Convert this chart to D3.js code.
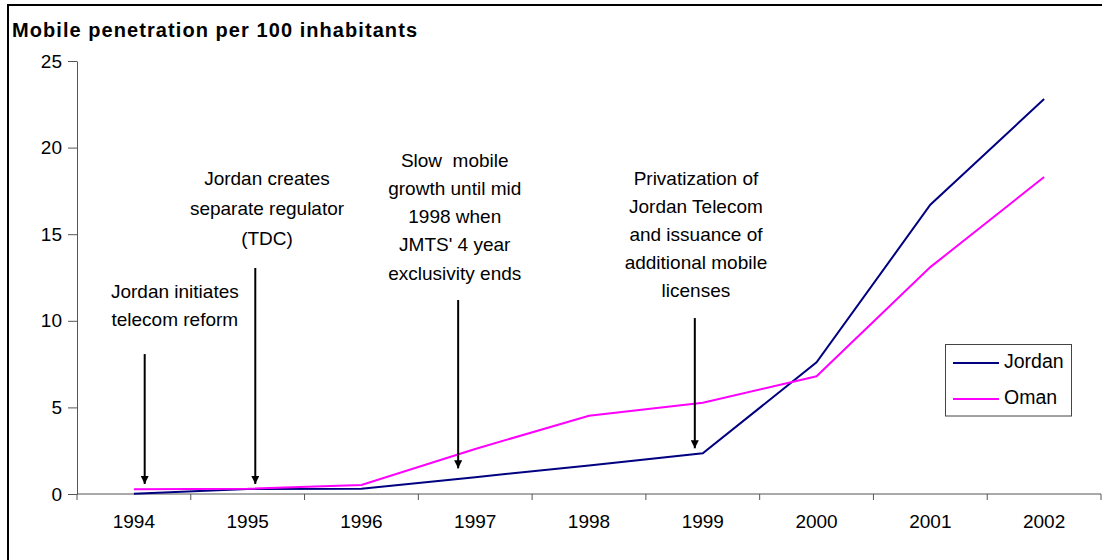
<!DOCTYPE html>
<html>
<head>
<meta charset="utf-8">
<script src="https://cdn.jsdelivr.net/npm/d3@7"></script>
<style>
  html, body { margin: 0; padding: 0; background: #fff; }
  svg { display: block; font-family: Arial, "Liberation Sans", sans-serif; }
</style>
</head>
<body>
<svg id="chart" width="1102" height="560"></svg>
<script>
// Mobile subscribers per 100 inhabitants
const years  = ["1994", "1995", "1996", "1997", "1998", "1999", "2000", "2001", "2002"];
const jordan = [0.02, 0.29, 0.3, 0.97, 1.65, 2.35, 7.6, 16.7, 22.8];
const oman   = [0.27, 0.3, 0.52, 2.6, 4.52, 5.27, 6.8, 13.1, 18.3];
const yTicks = [0, 5, 10, 15, 20, 25];

const seriesNames  = ["Jordan", "Oman"];
const seriesColors = ["#000080", "#ff00ff"];

// Policy milestones: arrow position (category index), arrow top/tip values, text lines
const notes = [
  { at: 0.095, from: 8.08,  to: 0.58, textAt: 0.36, lines: ["Jordan initiates", "telecom reform"] },
  { at: 1.067, from: 13.05, to: 0.58, textAt: 1.17, lines: ["Jordan creates", "separate regulator", "(TDC)"] },
  { at: 2.85,  from: 11.2,  to: 1.48, textAt: 2.82, lines: ["Slow  mobile", "growth until mid", "1998 when", "JMTS' 4 year", "exclusivity ends"] },
  { at: 4.93,  from: 10.16, to: 2.64, textAt: 4.94, lines: ["Privatization of", "Jordan Telecom", "and issuance of", "additional mobile", "licenses"] }
];
const noteTop = [293, 179.5, 161.7, 179.5];
const noteGap = [28, 30, 28.2, 28.2];

const svg = d3.select("#chart");
const plotL = 77, plotR = 1101, plotT = 61, plotB = 494;

const x = d3.scaleBand().domain(years).range([plotL, plotR]).padding(0);
const bw = x.bandwidth();
const xc = d => x(d) + bw / 2;
const xi = i => plotL + bw / 2 + i * bw;   // fractional category index
const y = d3.scaleLinear().domain([0, 25]).range([plotB, plotT]);

// Frame
svg.append("path")
  .attr("d", `M8,561 L8,5 L1103,5`)
  .attr("fill", "none").attr("stroke", "#000").attr("stroke-width", 2);

// Title
svg.append("text")
  .attr("x", 12).attr("y", 37)
  .attr("font-size", 20).attr("font-weight", "bold")
  .attr("textLength", 405).attr("lengthAdjust", "spacing")
  .text("Mobile penetration per 100 inhabitants");

// Y axis
const yAxis = d3.axisLeft(y).tickValues(yTicks).tickSize(9).tickPadding(6).tickSizeOuter(0);
const gy = svg.append("g").attr("transform", `translate(${plotL},0)`).call(yAxis);
gy.select(".domain").attr("stroke", "#555");
gy.selectAll(".tick line").attr("stroke", "#555");
gy.selectAll(".tick text").attr("font-size", 19).attr("fill", "#000")
  .attr("font-family", "Arial, 'Liberation Sans', sans-serif");

// X axis: labels at category centres, ticks at category boundaries
const gx = svg.append("g").attr("transform", `translate(0,${plotB})`);
gx.append("line").attr("x1", plotL).attr("x2", plotR).attr("stroke", "#555");
const bounds = years.map(d => x(d)).concat([plotR]);
gx.selectAll(".bt").data(bounds).join("line")
  .attr("x1", d => d).attr("x2", d => d).attr("y1", 0).attr("y2", 6)
  .attr("stroke", "#555");
gx.selectAll(".yl").data(years).join("text")
  .attr("x", d => xc(d)).attr("y", 29)
  .attr("text-anchor", "middle").attr("dominant-baseline", "middle")
  .attr("font-size", 19).text(d => d);

// Series lines
const line = d3.line().x((d, i) => xc(years[i])).y(d => y(d));
[jordan, oman].forEach((vals, k) => {
  svg.append("path").datum(vals)
    .attr("d", line)
    .attr("fill", "none")
    .attr("stroke", seriesColors[k])
    .attr("stroke-width", 2)
    .attr("stroke-linejoin", "miter");
});

// Arrow marker
svg.append("defs").append("marker")
  .attr("id", "arrowhead")
  .attr("viewBox", "0 0 10 10")
  .attr("refX", 10).attr("refY", 5)
  .attr("markerWidth", 9).attr("markerHeight", 8)
  .attr("markerUnits", "userSpaceOnUse")
  .attr("orient", "auto")
  .append("path").attr("d", "M0,0 L10,5 L0,10 Z").attr("fill", "#000");

// Annotations
notes.forEach((n, k) => {
  svg.append("line")
    .attr("x1", xi(n.at)).attr("x2", xi(n.at))
    .attr("y1", y(n.from)).attr("y2", y(n.to))
    .attr("stroke", "#000").attr("stroke-width", 2)
    .attr("marker-end", "url(#arrowhead)");
  const t = svg.append("text")
    .attr("text-anchor", "middle")
    .attr("font-size", 19)
    .attr("xml:space", "preserve");
  n.lines.forEach((s, j) => {
    t.append("tspan")
      .attr("x", xi(n.textAt))
      .attr("y", noteTop[k] + j * noteGap[k])
      .attr("dominant-baseline", "middle")
      .text(s);
  });
});

// Legend
const lg = svg.append("g");
lg.append("rect")
  .attr("x", 945.5).attr("y", 344.5).attr("width", 126).attr("height", 71.5)
  .attr("fill", "#fff").attr("stroke", "#444");
seriesNames.forEach((name, k) => {
  const ly = 363 + k * 36;
  lg.append("line").attr("x1", 953).attr("x2", 999).attr("y1", ly).attr("y2", ly)
    .attr("stroke", seriesColors[k]).attr("stroke-width", 2);
  lg.append("text").attr("x", 1004).attr("y", ly)
    .attr("dominant-baseline", "middle").attr("font-size", 19.5)
    .text(name);
});
</script>
</body>
</html>
